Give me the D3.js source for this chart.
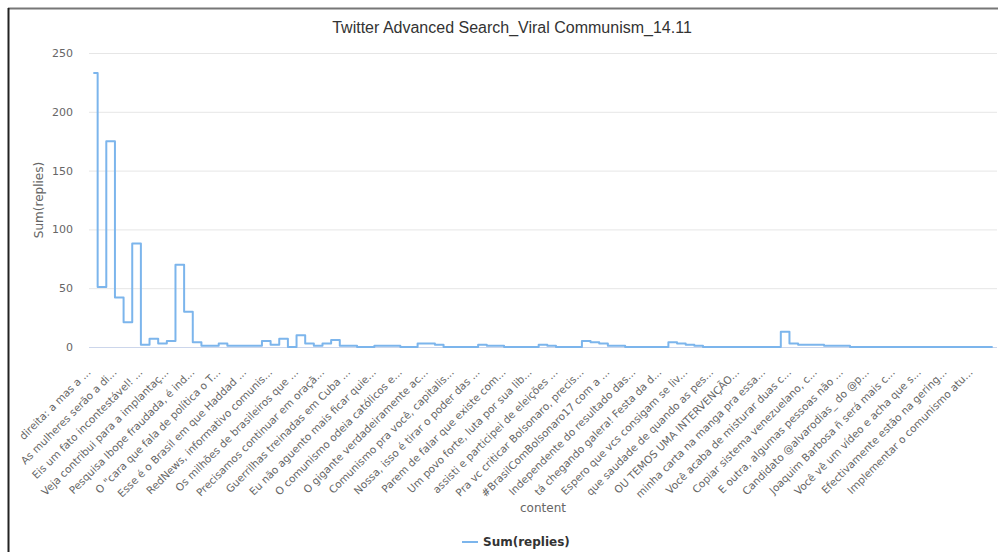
<!DOCTYPE html>
<html>
<head>
<meta charset="utf-8">
<script src="https://cdn.jsdelivr.net/npm/d3@7"></script>
<style>
body { margin: 0; background: #fff; }
text { font-family: "DejaVu Sans", "Lucida Grande", sans-serif; }
</style>
</head>
<body>
<svg id="chart" width="998" height="552"></svg>
<script>
// visible category labels (every 3rd category)
var labels = [
    'direita: a mas a ...', 'As mulheres serão a di...', 'Eis um fato incontestável! ...',
    'Veja contribui para a implantaç...', 'Pesquisa Ibope fraudada, é ind...', 'O "cara que fala de política o T...',
    'Esse é o Brasil em que Haddad ...', 'RedNews, informativo comunis...', 'Os milhões de brasileiros que ...',
    'Precisamos continuar em oraçã...', 'Guerrilhas treinadas em Cuba ...', 'Eu não aguento mais ficar quie...',
    'O comunismo odeia católicos e...', 'O gigante verdadeiramente ac...', 'Comunismo pra você, capitalis...',
    'Nossa, isso é tirar o poder das ...', 'Parem de falar que existe com...', 'Um povo forte, luta por sua lib...',
    'assisti e participei de eleições ...', 'Pra vc criticar Bolsonaro, precis...', '#BrasilComBolsonaro17 com a ...',
    'Independente do resultado das...', 'tá chegando galera! Festa da d...', 'Espero que vcs consigam se liv...',
    'que saudade de quando as pes...', 'OU TEMOS UMA INTERVENÇÃO...', 'minha carta na manga pra essa...',
    'Você acaba de misturar duas c...', 'Copiar sistema venezuelano, c...', 'E outra, algumas pessoas não ...',
    'Candidato @alvarodias_ do @p...', 'Joaquim Barbosa ñ será mais c...', 'Você vê um vídeo e acha que s...',
    'Efectivamente estão na gering...', 'Implementar o comunismo atu...'
];
var labelStep = 3;

// Sum(replies) per content
var replies = [
    233, 51, 175, 42, 21, 88, 2, 7, 3, 5,
    70, 30, 4, 1, 1, 3, 1, 1, 1, 1,
    5, 2, 7, 0, 10, 3, 1, 3, 6, 1,
    1, 0, 0, 1, 1, 1, 0, 0, 3, 3,
    2, 0, 0, 0, 0, 2, 1, 1, 0, 0,
    0, 0, 2, 1, 0, 0, 0, 5, 4, 3,
    1, 1, 0, 0, 0, 0, 0, 4, 3, 2,
    1, 0, 0, 0, 0, 0, 0, 0, 0, 0,
    13, 3, 2, 2, 2, 1, 1, 1, 0, 0,
    0, 0, 0, 0, 0, 0, 0, 0, 0, 0,
    0, 0, 0, 0, 0
];
var yTicks = [0, 50, 100, 150, 200, 250];

var conf = {
    left: 89, right: 997, top: 53, bottom: 347,
    lineColor: '#7cb5ec', gridColor: '#e6e6e6', axisColor: '#ccd6eb'
};

var svg = d3.select('#chart');

// frame
svg.append('line').attr('x1', 8).attr('x2', 998).attr('y1', 8.5).attr('y2', 8.5)
    .attr('stroke', '#777').attr('stroke-width', 2);
svg.append('line').attr('x1', 8.5).attr('x2', 8.5).attr('y1', 8).attr('y2', 552)
    .attr('stroke', '#222').attr('stroke-width', 2);

var x = d3.scaleBand()
    .domain(d3.range(replies.length))
    .range([conf.left, conf.right]);

var y = d3.scaleLinear()
    .domain([0, 250])
    .range([conf.bottom, conf.top]);

// grid + y labels
var yAxis = svg.append('g')
    .attr('transform', 'translate(' + conf.left + ',0)')
    .call(d3.axisLeft(y).tickValues(yTicks).tickSize(-(conf.right - conf.left)).tickPadding(16));
yAxis.select('.domain').remove();
yAxis.selectAll('line').attr('stroke', conf.gridColor);
yAxis.selectAll('text').attr('fill', '#666').style('font-size', '11px');

// x axis
var xAxis = svg.append('g')
    .attr('transform', 'translate(0,' + conf.bottom + ')')
    .call(d3.axisBottom(x)
        .tickValues(d3.range(0, replies.length, labelStep))
        .tickFormat(i => labels[i / labelStep])
        .tickSize(0));
xAxis.select('.domain').attr('stroke', conf.axisColor).attr('d', 'M' + conf.left + ',0.5H' + conf.right);
xAxis.selectAll('text')
    .attr('fill', '#666')
    .style('font-size', '10.5px')
    .attr('text-anchor', 'end')
    .attr('y', 0).attr('dy', 0)
    .attr('transform', 'translate(-2,26) rotate(-45)');

// step line
var line = d3.line()
    .x((d, i) => x(i) + x.bandwidth() / 2)
    .y(d => y(d))
    .curve(d3.curveStep);

svg.append('path')
    .datum(replies)
    .attr('d', line)
    .attr('fill', 'none')
    .attr('stroke', conf.lineColor)
    .attr('stroke-width', 2)
    .attr('stroke-linejoin', 'round');

// titles
svg.append('text')
    .attr('x', 512).attr('y', 33)
    .attr('text-anchor', 'middle')
    .attr('fill', '#333')
    .style('font-family', '"Liberation Sans", sans-serif')
    .style('font-size', '16px')
    .text('Twitter Advanced Search_Viral Communism_14.11');

svg.append('text')
    .attr('transform', 'translate(43,' + ((conf.top + conf.bottom) / 2) + ') rotate(-90)')
    .attr('text-anchor', 'middle')
    .attr('fill', '#666')
    .style('font-size', '12px')
    .text('Sum(replies)');

svg.append('text')
    .attr('x', (conf.left + conf.right) / 2).attr('y', 512)
    .attr('text-anchor', 'middle')
    .attr('fill', '#666')
    .style('font-size', '12px')
    .text('content');

// legend
var legend = svg.append('g').attr('transform', 'translate(462,542)');
legend.append('line').attr('x1', 0).attr('x2', 16).attr('y1', 0).attr('y2', 0)
    .attr('stroke', conf.lineColor).attr('stroke-width', 2);
legend.append('text')
    .attr('x', 21).attr('y', 4)
    .attr('fill', '#333')
    .style('font-size', '12px')
    .style('font-weight', 'bold')
    .text('Sum(replies)');
</script>
</body>
</html>
